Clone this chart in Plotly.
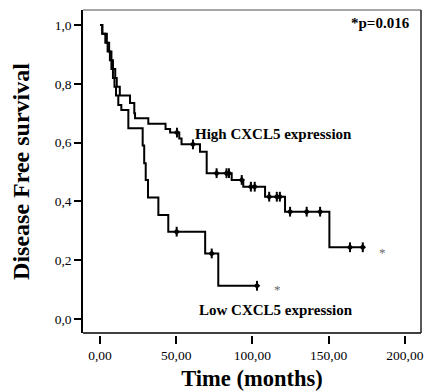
import plotly.graph_objects as go

# ---- data ----
high_t = [0, 1.5, 4.5, 6, 7.5, 8.5, 10, 11, 13, 19.7, 22.5, 23, 31.7, 43, 46, 52, 53.5,
          65.6, 70, 86.4, 94, 108.3, 121.4, 150.5, 173]
high_s = [1.0, 0.97, 0.94, 0.91, 0.88, 0.85, 0.82, 0.79, 0.76, 0.735, 0.70, 0.683, 0.664,
          0.646, 0.634, 0.614, 0.594, 0.569, 0.496, 0.473, 0.45, 0.416, 0.365, 0.244, 0.244]
high_censor_t = [50.5, 61, 76.5, 83, 84.6, 93, 99, 101.5, 111, 116, 118, 124.7, 135.6,
                 144.4, 164, 172.4]

low_t = [0, 1.5, 3.5, 5, 6.5, 7.5, 8.5, 9.5, 10.5, 12, 14, 18.6, 28, 29, 30, 31.5, 38.3,
         44.8, 69, 77.6, 103]
low_s = [1.0, 0.97, 0.94, 0.91, 0.88, 0.85, 0.82, 0.79, 0.76, 0.728, 0.711, 0.649, 0.59,
         0.53, 0.473, 0.413, 0.354, 0.297, 0.223, 0.113, 0.113]
low_censor_t = [50.3, 73.3, 103]

x_ticks = [0, 50, 100, 150, 200]
x_tick_labels = ["0,00", "50,00", "100,00", "150,00", "200,00"]
y_ticks = [0.0, 0.2, 0.4, 0.6, 0.8, 1.0]
y_tick_labels = ["0,0", "0,2", "0,4", "0,6", "0,8", "1,0"]


def surv_at(ts, ss, t):
    val = ss[0]
    for ti, si in zip(ts, ss):
        if ti <= t:
            val = si
    return val


FONT = "Liberation Serif"
fig = go.Figure()

for ts, ss, cts in [(high_t, high_s, high_censor_t), (low_t, low_s, low_censor_t)]:
    fig.add_trace(go.Scatter(x=ts, y=ss, mode="lines", line=dict(color="black", width=2, shape="hv"),
                             showlegend=False, hoverinfo="skip"))
    fig.add_trace(go.Scatter(x=cts, y=[surv_at(ts, ss, c) for c in cts], mode="markers",
                             marker=dict(symbol="line-ns-open", size=7, color="black",
                                         line=dict(width=2, color="black")),
                             showlegend=False, hoverinfo="skip"))
    fig.add_trace(go.Scatter(x=cts, y=[surv_at(ts, ss, c) for c in cts], mode="markers",
                             marker=dict(symbol="diamond", size=5, color="black"),
                             showlegend=False, hoverinfo="skip"))

fig.update_layout(
    width=426, height=391,
    margin=dict(l=83, r=5, t=10, b=56),
    paper_bgcolor="white", plot_bgcolor="white",
    font=dict(family=FONT, color="black"),
    xaxis=dict(range=[-11.15, 210.6], tickvals=x_ticks, ticktext=x_tick_labels,
               showgrid=False, zeroline=False, showline=False, automargin=False,
               ticks="outside", ticklen=8, tickwidth=1.5, tickcolor="black",
               anchor="free", position=0,
               tickfont=dict(family=FONT, size=13.5, color="black"),
               title=dict(text="<b>Time (months)</b>", font=dict(family=FONT, size=22.5), standoff=9)),
    yaxis=dict(range=[-0.0476, 1.051], domain=[0.00615, 1], tickvals=y_ticks, ticktext=y_tick_labels,
               showgrid=False, zeroline=False, showline=True, linecolor="black", linewidth=1.5,
               automargin=False,
               ticks="outside", ticklen=7, tickwidth=1.5, tickcolor="black",
               tickfont=dict(family=FONT, size=13.5, color="black"),
               title=dict(text="<b>Disease Free survival</b>", font=dict(family=FONT, size=24), standoff=18)),
)

# bottom, top and right frame lines
fig.add_shape(type="line", xref="x domain", yref="y domain", x0=0, x1=1, y0=0, y1=0,
              line=dict(color="black", width=1.5))
fig.add_shape(type="line", xref="x domain", yref="y domain", x0=0, x1=1, y0=1, y1=1,
              line=dict(color="#888888", width=1.5))
fig.add_shape(type="line", xref="x domain", yref="y domain", x0=1, x1=1, y0=0, y1=1,
              line=dict(color="#222222", width=1.5))

ann = dict(showarrow=False, font=dict(family=FONT, size=15, color="black"))
fig.add_annotation(x=61.0, y=0.629, text="<b>High CXCL5 expression</b>", xanchor="left", yanchor="middle", **ann)
fig.add_annotation(x=63.4, y=0.031, text="<b>Low CXCL5 expression</b>", xanchor="left", yanchor="middle", **ann)
fig.add_annotation(x=204.5, y=1.008, text="<b>*p=0.016</b>", xanchor="right", yanchor="middle", **ann)
fig.add_annotation(x=185.5, y=0.225, text="*", xanchor="center", yanchor="middle", showarrow=False,
                   font=dict(family=FONT, size=13, color="#666666"))
fig.add_annotation(x=116.6, y=0.10, text="*", xanchor="center", yanchor="middle", showarrow=False,
                   font=dict(family=FONT, size=13, color="#666666"))

fig.write_html("out.html", config={"displayModeBar": False},
               post_script="document.body.style.margin='0';")
